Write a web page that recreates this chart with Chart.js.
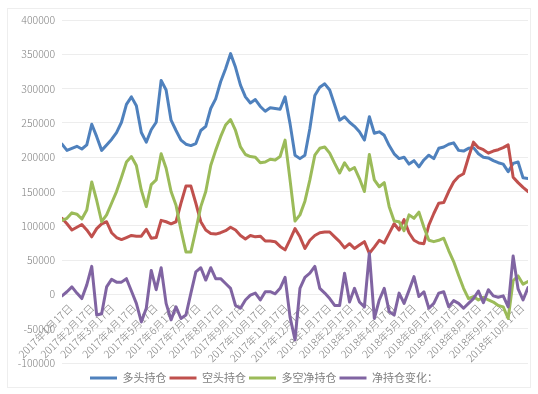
<!DOCTYPE html>
<html>
<head>
<meta charset="utf-8">
<script src="https://cdn.jsdelivr.net/npm/chart.js@4"></script>
<style>
  html, body { margin: 0; padding: 0; background: #fff; }
  #wrap { width: 538px; height: 394px; }
</style>
</head>
<body>
<div id="wrap"><canvas id="cot" width="538" height="394"></canvas></div>
<script>
// weekly report values, first report 2017年1月17日, one entry per week
const longPos = [
  219000, 210000, 213000, 216000, 212000, 218000, 248000, 230000, 210000, 218000,
  226000, 236000, 251000, 277000, 288000, 275000, 236000, 222000, 240000, 251000,
  312000, 298000, 254000, 239000, 225000, 219000, 217000, 220000, 239000, 245000,
  271000, 285000, 310000, 329000, 351000, 331000, 305000, 288000, 279000, 284000,
  274000, 267000, 272000, 271000, 270000, 288000, 249000, 203000, 198000, 203000,
  242000, 290000, 302000, 307000, 298000, 276000, 254000, 259000, 251000, 245000,
  237000, 225000, 259000, 235000, 237000, 232000, 217000, 205000, 198000, 200000,
  190000, 195000, 186000, 196000, 203000, 198000, 213000, 215000, 219000, 221000,
  210000, 209000, 213000, 214000, 205000, 200000, 199000, 195000, 192000, 190000,
  179000, 191000, 193000, 170000, 169000
];
const shortPos = [
  111000, 103000, 94000, 98000, 102000, 94000, 84000, 96000, 103000, 106000,
  90000, 83000, 80000, 83000, 86000, 85000, 85000, 95000, 82000, 83000,
  108000, 106000, 103000, 106000, 133000, 158000, 158000, 133000, 106000, 94000,
  89000, 88000, 90000, 93000, 98000, 94000, 86000, 81000, 86000, 84000,
  85000, 78000, 78000, 77000, 70000, 65000, 80000, 96000, 84000, 67000,
  79000, 86000, 90000, 91000, 91000, 84000, 77000, 68000, 74000, 67000,
  72000, 77000, 60000, 69000, 79000, 75000, 89000, 103000, 94000, 109000,
  90000, 79000, 75000, 74000, 101000, 118000, 133000, 134000, 150000, 164000,
  172000, 176000, 200000, 222000, 214000, 211000, 206000, 209000, 211000, 214000,
  218000, 171000, 163000, 156000, 150000
];
const netPos = [
  108000, 111000, 119000, 117000, 110000, 123000, 164000, 137000, 106000, 116000,
  133000, 150000, 171000, 193000, 201000, 188000, 152000, 128000, 160000, 167000,
  205000, 184000, 150000, 130000, 94000, 62000, 62000, 94000, 128000, 150000,
  188000, 210000, 230000, 247000, 255000, 239000, 215000, 204000, 201000, 200000,
  192000, 193000, 197000, 196000, 201000, 225000, 167000, 107000, 116000, 136000,
  167000, 203000, 213000, 215000, 206000, 191000, 177000, 192000, 181000, 185000,
  169000, 150000, 204000, 167000, 157000, 163000, 128000, 107000, 106000, 93000,
  116000, 111000, 120000, 98000, 79000, 77000, 79000, 82000, 64000, 48000,
  28000, 9000, -6000, -3000, -8000, -4000, -8000, -11000, -16000, -18000,
  -35000, 20000, 27000, 15000, 19000
];
const netChange = [
  -2000, 4000, 11000, 2000, -6000, 14000, 41000, -30000, -28000, 11000,
  22000, 18000, 18000, 23000, 5000, -13000, -40000, -20000, 35000, 7000,
  39000, -13000, -37000, -18000, -35000, -30000, 2000, 33000, 39000, 21000,
  39000, 23000, 23000, 16000, 9000, -16000, -20000, -8000, -1000, 2000,
  -8000, 4000, 4000, 1000, 9000, 25000, -33000, -66000, 9000, 25000,
  31000, 41000, 9000, 2000, -6000, -16000, -16000, 31000, -11000, 9000,
  -11000, -18000, 60000, -35000, -8000, 9000, -25000, -30000, 2000, -13000,
  6000, 26000, -3000, 4000, -20000, -13000, 2000, 4000, -18000, -9000,
  -13000, -20000, -13000, -6000, 5000, -12000, 7000, -2000, -4000, -2000,
  -18000, 56000, 8000, -8000, 10000
];

const seriesNames = ['多头持仓', '空头持仓', '多空净持仓', '净持仓变化：'];
const seriesColors = ['#4F81BD', '#C0504D', '#9BBB59', '#8064A2'];

const monthTicks = [
  '2017年1月17日', '2017年2月17日', '2017年3月17日', '2017年4月17日',
  '2017年5月17日', '2017年6月17日', '2017年7月17日', '2017年8月17日',
  '2017年9月17日', '2017年10月17日', '2017年11月17日', '2017年12月17日',
  '2018年1月17日', '2018年2月17日', '2018年3月17日', '2018年4月17日',
  '2018年5月17日', '2018年6月17日', '2018年7月17日', '2018年8月17日',
  '2018年9月17日', '2018年10月17日'
];
const firstReport = '2017年1月17日';

const yMin = -100000, yMax = 400000, yStep = 50000;

const FONT = "'Noto Sans CJK SC', 'Noto Sans', sans-serif";
const GREY = '#808080';

// date label -> position in weeks after the first report
function dayOf(label) {
  const m = label.match(/(\d+)年(\d+)月(\d+)日/);
  return Date.UTC(+m[1], +m[2] - 1, +m[3]);
}
const tickWeeks = monthTicks.map(t => (dayOf(t) - dayOf(firstReport)) / (7 * 86400000));

const toPoints = (arr) => arr.map((v, i) => ({ x: i, y: v }));

const frame = {
  id: 'frame',
  beforeDraw(chart) {
    const c = chart.ctx;
    c.save();
    c.fillStyle = '#fff';
    c.fillRect(0, 0, chart.width, chart.height);
    c.strokeStyle = '#eeeeee';
    c.lineWidth = 1;
    c.strokeRect(7.5, 8.5, chart.width - 15, chart.height - 15);
    c.restore();
  }
};

const allSeries = [longPos, shortPos, netPos, netChange];

new Chart(document.getElementById('cot'), {
  type: 'line',
  data: {
    datasets: allSeries.map((arr, i) => ({
      label: seriesNames[i],
      data: toPoints(arr),
      borderColor: seriesColors[i],
      backgroundColor: seriesColors[i],
      borderWidth: 3,
      pointRadius: 0,
      pointHoverRadius: 0,
      pointBorderWidth: 3,
      pointBorderColor: seriesColors[i],
      borderJoinStyle: 'round',
      borderCapStyle: 'round',
      tension: 0,
      fill: false,
      order: allSeries.length - 1 - i   // later series drawn on top, like Excel
    }))
  },
  options: {
    responsive: false,
    animation: false,
    events: [],
    layout: { padding: { top: 20, right: 10, bottom: 0.5, left: 0 } },
    plugins: {
      tooltip: { enabled: false },
      legend: {
        position: 'bottom',
        // empty title only reserves a little room above the legend row
        title: { display: true, text: '', padding: 0, font: { size: 6.4, lineHeight: 1 } },
        labels: {
          usePointStyle: true,
          pointStyle: 'line',
          pointStyleWidth: 27,
          padding: 3,
          color: GREY,
          font: { family: FONT, size: 11 },
          sort: (a, b) => a.datasetIndex - b.datasetIndex
        }
      }
    },
    scales: {
      x: {
        type: 'linear',
        position: { y: 0 },
        min: 0,
        max: longPos.length - 1,
        bounds: 'data',
        grid: { display: false, drawTicks: false },
        border: { display: false },
        afterBuildTicks: (s) => { s.ticks = tickWeeks.map(v => ({ value: v })); },
        afterFit: (s) => { s.height = 0; s.paddingLeft = 0; s.paddingRight = 0; },
        ticks: {
          autoSkip: false,
          minRotation: 45,
          maxRotation: 45,
          labelOffset: 8.5,
          padding: 7,
          color: GREY,
          font: { family: FONT, size: 10.5, weight: 300 },
          callback: (v, i) => monthTicks[i]
        }
      },
      y: {
        min: yMin,
        max: yMax,
        grid: { color: '#ededed', drawTicks: false },
        border: { display: false },
        afterFit: (s) => { s.width = 62; },
        ticks: {
          stepSize: yStep,
          padding: 7,
          color: GREY,
          font: { family: FONT, size: 10.5, weight: 300 },
          callback: (v) => String(v)
        }
      }
    }
  },
  plugins: [frame]
});
</script>
</body>
</html>
